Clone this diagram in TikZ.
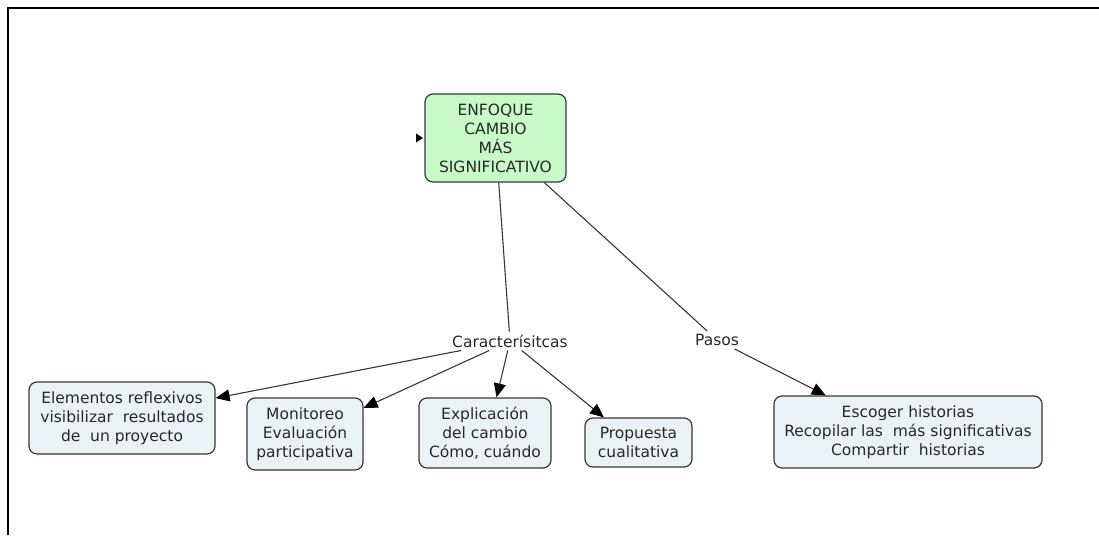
\documentclass[tikz,border=0pt]{standalone}
\usepackage{fontspec}
\setmainfont{DejaVu Sans}
\usetikzlibrary{arrows.meta}
\definecolor{maingreen}{RGB}{200,250,200}
\definecolor{subfill}{RGB}{235,242,245}
\definecolor{edgegrey}{RGB}{55,55,55}
\definecolor{txt}{RGB}{40,40,40}
\tikzset{
  concept/.style={draw=edgegrey, line width=1.2pt, rounded corners=8pt, align=center,
    text=txt, font=\fontsize{15.5}{19}\selectfont, inner sep=0pt},
  mainbox/.style={concept, fill=maingreen},
  subbox/.style={concept, fill=subfill},
  linklabel/.style={text=txt, font=\fontsize{15.5}{18}\selectfont, inner sep=3pt},
  link/.style={draw=edgegrey, line width=1.1pt},
  arrowlink/.style={link, -{Triangle[length=14pt,width=12pt,color=black]}}
}
\begin{document}
\begin{tikzpicture}[x=1pt,y=-1pt]
\useasboundingbox (0,0) rectangle (1099,535);
% frame
\draw[line width=2.4pt, black] (8,535) -- (8,8) -- (1099,8);

\node[mainbox, minimum width=141pt, minimum height=88pt] (main) at (495.5,138) {ENFOQUE\\CAMBIO\\MÁS\\SIGNIFICATIVO};
\coordinate (stub) at (416,138);
\fill[black] (stub) ++(0,-4.5) -- ++(7,4.5) -- ++(-7,4.5) -- cycle;

\node[linklabel] (car) at (510,341) {Caracterísitcas};
\node[linklabel] (pasos) at (717,340) {Pasos};

\node[subbox, minimum width=186pt, minimum height=72pt] (elem) at (122,418) {Elementos reflexivos\\visibilizar~ resultados\\de~ un proyecto};
\node[subbox, minimum width=116pt, minimum height=72pt] (mon) at (305,434) {Monitoreo\\Evaluación\\participativa};
\node[subbox, minimum width=132pt, minimum height=70pt] (expl) at (485,433) {Explicación\\del cambio\\Cómo, cuándo};
\node[subbox, minimum width=107pt, minimum height=49pt] (prop) at (638.5,442.5) {Propuesta\\cualitativa};
\node[subbox, minimum width=268pt, minimum height=72pt] (esc) at (908,432) {Escoger historias\\Recopilar las~ más significativas\\Compartir~ historias};

\draw[link] (main) -- (car);
\draw[link] (main) -- (pasos);
\draw[arrowlink] (car) -- (elem.12);
\draw[arrowlink] (car) -- (mon.24);
\draw[arrowlink] (car) -- (expl.72);
\draw[arrowlink] (car) -- (prop.144);
\draw[arrowlink] (pasos) -- (esc.156);
\end{tikzpicture}
\end{document}
